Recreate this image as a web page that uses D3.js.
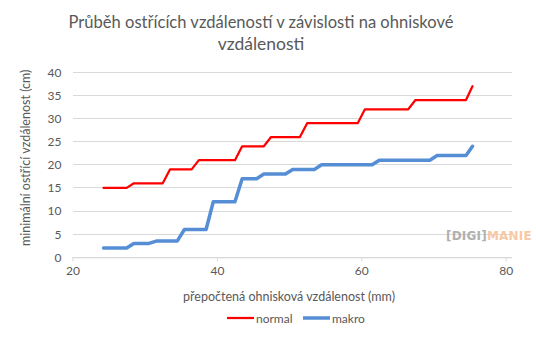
<!DOCTYPE html>
<html><head><meta charset="utf-8">
<script src="https://cdn.jsdelivr.net/npm/d3@7"></script>
<style>
body{margin:0;background:#fff;}
text{font-family:Lato,"Open Sans",sans-serif;fill:#595959;}
</style></head>
<body><svg id="c" width="536" height="339"></svg>
<script>
const titleLines = ["Průběh ostřících vzdáleností v závislosti na ohniskové", "vzdálenosti"];
const xLabel = "přepočtená ohnisková vzdálenost (mm)";
const yLabel = "minimální ostřící vzdálenost (cm)";
const xTicks = [20, 40, 60, 80];
const yTicks = [0, 5, 10, 15, 20, 25, 30, 35, 40];
const seriesNames = ["normal", "makro"];
const seriesColors = ["#ff0000", "#558ed5"];
const normalX = [24.3, 27.5, 28.5, 32.5, 33.5, 36.5, 37.5, 42.5, 43.5, 46.5, 47.5, 51.5, 52.5, 59.5, 60.5, 66.5, 67.5, 74.5, 75.4];
const normalY = [15, 15, 16, 16, 19, 19, 21, 21, 24, 24, 26, 26, 29, 29, 32, 32, 34, 34, 37];
const makroX = [24.3, 27.5, 28.5, 30.6, 31.6, 34.5, 35.5, 38.5, 39.5, 42.5, 43.5, 45.5, 46.5, 49.5, 50.5, 53.5, 54.5, 61.5, 62.5, 69.5, 70.5, 74.5, 75.4];
const makroY = [2, 2, 3, 3, 3.5, 3.5, 6, 6, 12, 12, 17, 17, 18, 18, 19, 19, 20, 20, 21, 21, 22, 22, 24];

const svg = d3.select("#c");
const x = d3.scaleLinear().domain([20, 80]).range([72.5, 505.7]);
const y = d3.scaleLinear().domain([0, 40]).range([257.3, 72.3]);
const plotRight = 512;

// title
const tl = svg.append("text").attr("text-anchor","middle").attr("font-size",17.5)
  .selectAll("tspan").data(titleLines).join("tspan")
  .attr("x",261).attr("y",(d,i)=>28+i*22).text(d=>d);
tl.filter((d,i)=>i===0).attr("textLength",385).attr("lengthAdjust","spacingAndGlyphs");

// gridlines
svg.append("g").selectAll("line").data(yTicks).join("line")
  .attr("x1",x(20)).attr("x2",plotRight).attr("y1",d=>y(d)).attr("y2",d=>y(d))
  .attr("stroke","#d9d9d9").attr("stroke-width",1).attr("shape-rendering","crispEdges");

// y axis labels
const yAxis = d3.axisLeft(y).tickValues(yTicks).tickSize(0).tickPadding(11);
const gy = svg.append("g").attr("transform",`translate(${x(20)},0)`).call(yAxis);
gy.select(".domain").remove();
gy.selectAll("text").attr("font-size",12).attr("fill","#595959").style("font-family","Lato");

// x axis
const xAxis = d3.axisBottom(x).tickValues(xTicks).tickSize(4).tickPadding(5).tickSizeOuter(0);
const gx = svg.append("g").attr("transform",`translate(0,${y(0)})`).call(xAxis);
gx.select(".domain").attr("d",`M${x(20)},0.5H${plotRight}`).attr("stroke","#d9d9d9");
gx.selectAll(".tick line").attr("stroke","#d9d9d9");
gx.selectAll("text").attr("font-size",12).attr("fill","#595959").style("font-family","Lato");

// axis titles
svg.append("text").attr("text-anchor","middle").attr("font-size",12.5)
  .attr("transform",`translate(30,${(y(0)+y(40))/2 - 7}) rotate(-90)`).text(yLabel);
svg.append("text").attr("text-anchor","middle").attr("font-size",12.5)
  .attr("x",289).attr("y",301).text(xLabel);

// lines
const line = d3.line().x(d=>x(d[0])).y(d=>y(d[1]));
const normalData = normalX.map((v,i)=>[v, normalY[i]]);
const makroData = makroX.map((v,i)=>[v, makroY[i]]);
svg.append("path").datum(makroData).attr("d",line).attr("fill","none")
  .attr("stroke",seriesColors[1]).attr("stroke-width",3.5).attr("stroke-linejoin","round").attr("stroke-linecap","round");
svg.append("path").datum(normalData).attr("d",line).attr("fill","none")
  .attr("stroke",seriesColors[0]).attr("stroke-width",2.25).attr("stroke-linejoin","round").attr("stroke-linecap","round");

// legend
const legX = [227, 303];
const widths = [2.25, 3.5];
const lg = svg.append("g").selectAll("g").data(seriesNames).join("g")
  .attr("transform",(d,i)=>`translate(${legX[i]},318)`);
lg.append("line").attr("x1",0).attr("x2",27).attr("y1",0).attr("y2",0)
  .attr("stroke",(d,i)=>seriesColors[i]).attr("stroke-width",(d,i)=>widths[i]);
lg.append("text").attr("x",29).attr("y",4.5).attr("font-size",12).text(d=>d);

// watermark
const wm = svg.append("text").attr("x",446).attr("y",240).attr("font-size",12).attr("font-weight","bold")
  .style("font-family","'DejaVu Sans', sans-serif").attr("letter-spacing",0.2);
wm.append("tspan").style("fill","#b0b0b0").text("[DIGI]");
wm.append("tspan").style("fill","#f8c8a4").text("MANIE");
</script></body></html>
